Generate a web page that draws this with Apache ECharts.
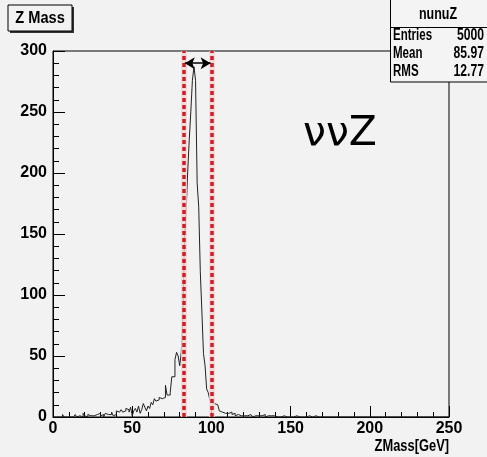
<!DOCTYPE html>
<html>
<head>
<meta charset="utf-8">
<script src="https://cdn.jsdelivr.net/npm/echarts@6/dist/echarts.min.js"></script>
<style>
  html, body {margin: 0; padding: 0; background: #f2f2f2;}
  #z_mass {width: 487px; height: 457px;}
</style>
</head>
<body>
<div id="z_mass"></div>
<script>
// ZMass histogram, 1 GeV bins from 0 to 250
const bin_width = 1;
const counts = [
    0, 0, 1, 0, 0, 0, 2, 0, 0, 1,
    0, 1, 0, 0, 2, 0, 1, 0, 0, 3,
    1, 0, 2, 1, 0, 1, 0, 2, 1, 3,
    1, 2, 0, 3, 2, 1, 2, 4, 1, 2,
    5, 4, 3, 6, 4, 5, 7, 6, 4, 8,
    1, 5, 7, 4, 9, 3, 6, 11, 8, 5,
    9, 7, 12, 10, 15, 13, 14, 16, 15, 14,
    16, 26, 18, 18, 20, 33, 33, 47, 53, 50,
    42, 53, 80, 148, 167, 200, 227, 250, 276, 287,
    276, 192, 172, 119, 86, 52, 42, 23, 20, 14,
    12, 11, 11, 10, 10, 5, 4, 4, 3, 3,
    3, 2, 4, 2, 3, 1, 2, 3, 1, 2,
    1, 2, 1, 0, 2, 1, 0, 1, 2, 1,
    0, 1, 1, 2, 0, 1, 0, 1, 0, 1,
    1, 0, 1, 0, 0, 1, 0, 0, 1, 0,
    1, 0, 0, 1, 0, 0, 1, 0, 0, 0,
    0, 1, 0, 0, 0, 1, 0, 0, 0, 0,
    1, 0, 0, 0, 0, 0, 1, 0, 0, 0,
    0, 0, 1, 0, 0, 0, 0, 0, 0, 0,
    0, 0, 0, 0, 0, 0, 0, 0, 0, 0,
    0, 0, 0, 0, 0, 0, 0, 0, 0, 0,
    0, 0, 0, 0, 0, 0, 0, 0, 0, 0,
    0, 0, 0, 0, 0, 0, 0, 0, 0, 0,
    0, 0, 0, 0, 0, 0, 0, 0, 0, 0,
    0, 0, 0, 0, 0, 0, 0, 0, 0, 0
];
const x_ticks = [0, 250, 50];      // min, max, step
const y_ticks = [0, 300, 50];
const cut_lines = [82.7, 100];     // mass window
const arrow_y = 290;
const stats_title = 'nunuZ';
const stats_rows = [['Entries', '5000'], ['Mean', '85.97'], ['RMS', '12.77']];

const label_font = '"Liberation Sans", Arial, sans-serif';

const hist_points = counts.map((c, i) => [i * bin_width, c]);
hist_points.push([counts.length * bin_width, counts[counts.length - 1]]);

const chart = echarts.init(document.getElementById('z_mass'), null, {renderer: 'canvas'});

// squeezed text, the original labels are narrow
function narrow_text(x, y, text, size, align, squeeze) {
    return {
        type: 'text', x: x, y: y, scaleX: squeeze, originX: 0, originY: 0,
        style: {x: 0, y: 0, text: text, font: 'bold ' + size + 'px ' + label_font, fill: '#000',
            textAlign: align, textVerticalAlign: 'middle'}
    };
}

const stats_text = [];
stats_rows.forEach((row, k) => {
    const y = 36 + k * 18;
    stats_text.push(narrow_text(393, y, row[0], 16, 'left', 0.72));
    stats_text.push(narrow_text(484, y, row[1], 16, 'right', 0.76));
});

const axis_label = {color: '#000', fontWeight: 'bold', fontSize: 16, fontFamily: label_font};

chart.setOption({
    backgroundColor: '#f2f2f2',
    animation: false,
    grid: {left: 53, top: 51, width: 396, height: 366, show: true, borderColor: '#000', borderWidth: 1,
        backgroundColor: 'transparent'},
    xAxis: {
        type: 'value', min: x_ticks[0], max: x_ticks[1], interval: x_ticks[2],
        axisLine: {show: true, lineStyle: {color: '#000', width: 1}},
        axisTick: {show: true, inside: true, length: 11, lineStyle: {color: '#000'}},
        minorTick: {show: true, splitNumber: 5, length: 5, lineStyle: {color: '#000'}},
        splitLine: {show: false},
        axisLabel: Object.assign({}, axis_label, {margin: 4})
    },
    yAxis: {
        type: 'value', min: y_ticks[0], max: y_ticks[1], interval: y_ticks[2],
        axisLine: {show: true, lineStyle: {color: '#000', width: 1}},
        axisTick: {show: true, inside: true, length: 12, lineStyle: {color: '#000'}},
        minorTick: {show: true, splitNumber: 5, length: 6, lineStyle: {color: '#000'}},
        splitLine: {show: false},
        axisLabel: Object.assign({}, axis_label, {margin: 6})
    },
    series: [
        {
            // pink halo under the dotted cut lines
            type: 'line', data: [], symbol: 'none',
            markLine: {
                silent: true, symbol: 'none', label: {show: false},
                lineStyle: {color: '#f6d2d2', width: 6, type: 'solid', opacity: 0.8},
                data: cut_lines.map(v => ({xAxis: v}))
            }
        },
        {
            type: 'line', step: 'end', data: hist_points, showSymbol: false, symbol: 'none',
            lineStyle: {color: '#222', width: 1}
        },
        {
            type: 'line', data: [], symbol: 'none',
            markLine: {
                silent: true, symbol: 'none', label: {show: false},
                lineStyle: {color: '#cc1f2a', width: 3.5, type: [4, 3]},
                data: cut_lines.map(v => ({xAxis: v}))
            }
        },
        {
            type: 'line', data: [], symbol: 'none',
            markLine: {
                silent: true, symbol: ['arrow', 'arrow'], symbolSize: [9, 10], label: {show: false},
                lineStyle: {color: '#000', width: 1.5, type: 'solid'},
                data: [[{coord: [cut_lines[0] + 0.5, arrow_y]}, {coord: [cut_lines[1] - 0.5, arrow_y]}]]
            }
        }
    ],
    graphic: [
        // title box with shadow
        {type: 'rect', shape: {x: 10, y: 7, width: 64, height: 26}, style: {fill: '#333'}},
        {type: 'rect', shape: {x: 8, y: 5, width: 64, height: 26}, style: {fill: '#f2f2f2', stroke: '#000', lineWidth: 1}},
        narrow_text(40, 18.5, 'Z Mass', 17, 'center', 0.86),
        // stats box
        {type: 'rect', shape: {x: 390.5, y: -1, width: 100, height: 83}, style: {fill: '#f4f4f4', stroke: '#000', lineWidth: 1}},
        {type: 'line', shape: {x1: 390, y1: 27.5, x2: 487, y2: 27.5}, style: {stroke: '#000', lineWidth: 1}},
        narrow_text(438, 15, stats_title, 16, 'center', 0.78),
        ...stats_text,
        // process label
        {type: 'text', left: 303, top: 114, style: {text: 'ννZ', font: '41px "DejaVu Sans", sans-serif', fill: '#000'}},
        // axis title
        narrow_text(449, 446, 'ZMass[GeV]', 16.5, 'right', 0.78)
    ]
});
</script>
</body>
</html>
